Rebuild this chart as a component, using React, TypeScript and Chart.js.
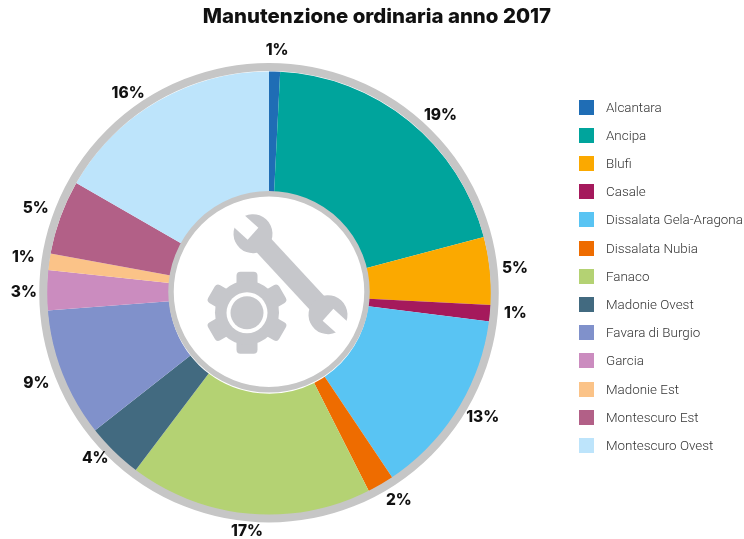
import React, { useEffect, useRef } from "react";
import { Chart, registerables } from "chart.js";

Chart.register(...registerables);

const categories = ["Alcantara","Ancipa","Blufi","Casale","Dissalata Gela-Aragona","Dissalata Nubia","Fanaco","Madonie Ovest","Favara di Burgio","Garcia","Madonie Est","Montescuro Est","Montescuro Ovest"];
const values = [0.8,20.1,4.9,1.2,13.6,1.95,17.75,4.1,9.4,2.9,1.2,5.4,16.7];
const percentLabels = ["1%","19%","5%","1%","13%","2%","17%","4%","9%","3%","1%","5%","16%"];
const colors = ["#1f6db5","#00a49c","#fba900","#a5195c","#59c4f3","#ee6c00","#b4d273","#426a80","#8091cb","#cb8cbf","#fbc388","#b26087","#bde4fb"];
const labelNudgeX = [2,17,2,2,5,6,0,-2,-4,0,-3,-3,-18];
const labelNudgeY = [2,12,0,-2,-5,-5,-7,-10,1,2,-1,-1,12];

const GREY = "#c6c6c6";
const ICON = "#c6c7cb";

function drawHead(ctx: CanvasRenderingContext2D, x: number, y: number, dir: number) {
  ctx.save();
  ctx.translate(x, y);
  ctx.rotate(dir);
  ctx.fillStyle = ICON;
  ctx.beginPath();
  ctx.arc(0, 0, 19.5, 0, Math.PI * 2);
  ctx.fill();
  ctx.fillStyle = "#fff";
  ctx.beginPath();
  ctx.moveTo(0, -8);
  ctx.lineTo(24, -8);
  ctx.lineTo(24, 8);
  ctx.lineTo(0, 8);
  ctx.closePath();
  ctx.fill();
  ctx.restore();
}

const centerPlugin = {
  id: "centerRing",
  afterDatasetsDraw(chart: any) {
    const arc = chart.getDatasetMeta(0).data[0];
    if (!arc) return;
    const { x, y, outerRadius, innerRadius } = arc;
    const ctx: CanvasRenderingContext2D = chart.ctx;
    ctx.save();
    ctx.strokeStyle = GREY;
    ctx.lineWidth = 8;
    ctx.beginPath();
    ctx.arc(x, y - 1, outerRadius + 3.5, 0, Math.PI * 2);
    ctx.stroke();
    ctx.fillStyle = "#fff";
    ctx.beginPath();
    ctx.arc(x, y - 2, innerRadius - 2, 0, Math.PI * 2);
    ctx.fill();
    ctx.lineWidth = 5.5;
    ctx.stroke();

    // wrench
    const ox = x, oy = y;
    ctx.strokeStyle = ICON;
    ctx.lineWidth = 20;
    ctx.beginPath();
    ctx.moveTo(ox - 16, oy - 60);
    ctx.lineTo(ox + 59, oy + 21);
    ctx.stroke();
    drawHead(ctx, ox - 16, oy - 60, (-Math.PI * 3) / 4 - 0.05);
    drawHead(ctx, ox + 59, oy + 21, Math.PI / 4 - 0.05);

    // gear
    const gx = ox - 22, gy = oy + 19;
    ctx.fillStyle = ICON;
    for (let i = 0; i < 6; i++) {
      ctx.save();
      ctx.translate(gx, gy);
      ctx.rotate((i * Math.PI) / 3);
      ctx.beginPath();
      ctx.roundRect(-10.5, -41, 21, 30, 4);
      ctx.fill();
      ctx.restore();
    }
    ctx.beginPath();
    ctx.arc(gx, gy, 32, 0, Math.PI * 2);
    ctx.fill();
    ctx.fillStyle = "#fff";
    ctx.beginPath();
    ctx.arc(gx, gy, 20.5, 0, Math.PI * 2);
    ctx.fill();
    ctx.fillStyle = ICON;
    ctx.beginPath();
    ctx.arc(gx, gy, 16.5, 0, Math.PI * 2);
    ctx.fill();
    ctx.restore();
  },
};

const labelPlugin = {
  id: "percentLabels",
  afterDraw(chart: any) {
    const ctx: CanvasRenderingContext2D = chart.ctx;
    ctx.save();
    ctx.font = "800 15.5px Inter";
    ctx.fillStyle = "#111";
    ctx.textAlign = "center";
    ctx.textBaseline = "middle";
    chart.getDatasetMeta(0).data.forEach((arc: any, i: number) => {
      const mid = (arc.startAngle + arc.endAngle) / 2;
      const r = arc.outerRadius + 23;
      ctx.fillText(
        percentLabels[i],
        arc.x + r * Math.cos(mid) + labelNudgeX[i],
        arc.y + r * Math.sin(mid) + labelNudgeY[i]
      );
    });
    ctx.restore();
  },
};

export default function App() {
  const ref = useRef<HTMLCanvasElement>(null);
  useEffect(() => {
    const chart = new Chart(ref.current!, {
      type: "doughnut",
      data: {
        labels: categories,
        datasets: [{ data: values, backgroundColor: colors, borderWidth: 0 }],
      },
      options: {
        animation: false,
        responsive: false,
        cutout: "45%",
        layout: { padding: { top: 0, left: 0, right: 193, bottom: 23 } },
        plugins: {
          title: {
            display: true,
            text: "Manutenzione ordinaria anno 2017",
            color: "#111",
            align: "end",
            font: { family: "Inter", size: 20.4, weight: "800", lineHeight: 1.2 },
            padding: { top: 5, bottom: 42 },
          },
          legend: { display: false },
          tooltip: { enabled: false },
        },
      },
      plugins: [centerPlugin, labelPlugin],
    } as any);
    return () => chart.destroy();
  }, []);
  return (
    <div style={{ position: "fixed", left: 0, top: 0, width: 744, height: 539, overflow: "hidden", background: "#fff" }}>
      <canvas ref={ref} width={757} height={539} style={{ position: "absolute", left: -13, top: 0, display: "block", width: 757, height: 539 }} />
      {categories.map((c, i) => (
        <div key={c} style={{ position: "absolute", left: 579, top: 99.5 + i * 28.2, height: 15, display: "flex", alignItems: "center", whiteSpace: "nowrap" }}>
          <span style={{ display: "inline-block", width: 15, height: 15, background: colors[i], marginRight: 12 }} />
          <span style={{ font: "300 13.4px Roboto", color: "#333" }}>{c}</span>
        </div>
      ))}
    </div>
  );
}
